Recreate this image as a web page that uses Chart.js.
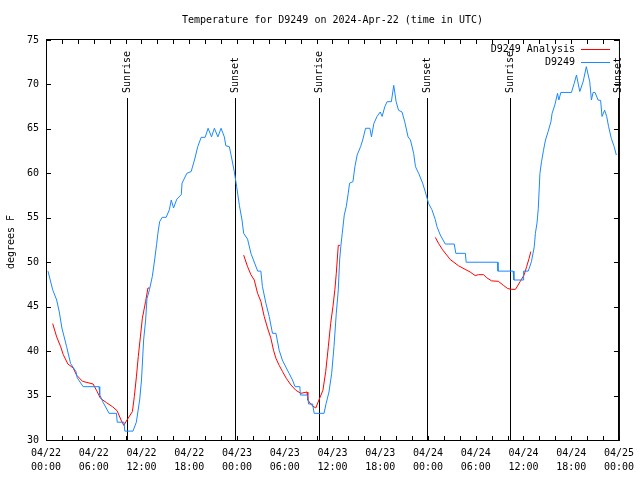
<!DOCTYPE html>
<html>
<head>
<meta charset="utf-8">
<script src="https://cdn.jsdelivr.net/npm/chart.js@4/dist/chart.umd.min.js"></script>
<style>
html,body{margin:0;padding:0;background:#fff;}
canvas{display:block;}
</style>
</head>
<body>
<canvas id="c" width="640" height="480"></canvas>
<script>
// ---- data (hours since 2024-04-22 00:00 UTC) ----
const obsHours = [0.25,0.84,1.34,1.67,2.0,2.59,3.09,3.76,3.92,4.67,6.67,6.75,7.2,7.93,8.85,8.95,9.8,9.9,10.93,11.35,11.77,12.0,12.27,12.52,12.69,13.0,13.36,13.65,13.9,14.06,14.28,14.6,15.1,15.5,15.74,16.03,16.44,17.0,17.1,17.7,18.24,18.66,19.07,19.5,20.0,20.37,20.8,21.16,21.6,22.0,22.41,22.6,23.04,23.25,23.66,23.96,24.3,24.63,24.84,25.33,25.75,26.6,27.0,27.2,27.63,28.05,28.46,28.9,29.3,29.7,30.2,30.55,30.97,31.3,31.9,31.97,32.85,33.0,33.5,33.7,34.94,35.2,35.56,35.9,36.19,36.48,36.73,36.9,37.05,37.23,37.48,37.73,37.98,38.15,38.57,38.82,39.1,39.53,39.8,40.16,40.7,40.9,41.2,41.6,42.0,42.24,42.58,42.86,43.4,43.7,44.0,44.3,44.74,45.08,45.5,45.8,46.2,46.43,46.83,47.33,47.67,48.08,48.5,48.92,49.13,49.55,50.17,51.3,51.5,52.7,52.8,56.76,56.8,58.7,58.8,60.0,60.02,60.6,61.0,61.36,61.5,61.7,61.86,62.07,62.27,62.52,62.77,63.1,63.45,63.6,63.95,64.28,64.45,64.7,66.03,66.37,66.66,67.08,67.5,67.9,68.33,68.54,68.75,69.0,69.37,69.7,69.87,70.2,70.46,70.7,71.05,71.4,71.67];
const obsTemps = [49.0,46.9,45.75,44.4,42.6,40.5,38.6,37.7,37.0,36.0,36.0,35.1,34.2,33.0,33.0,32.0,32.0,31.0,31.0,32.0,34.5,36.75,41.25,43.5,45.9,46.9,48.4,50.25,52.0,53.25,54.56,55.05,55.05,55.9,57.0,56.1,57.1,57.6,58.9,60.0,60.2,61.5,63.0,64.05,64.05,65.07,64.1,65.07,64.1,65.07,64.1,63.1,63.0,62.1,60.2,58.5,56.4,54.75,53.25,52.6,51.0,49.0,49.0,47.25,45.4,43.9,42.0,42.0,40.1,39.0,38.1,37.5,36.75,36.0,36.0,35.06,35.06,34.05,34.05,33.0,33.0,34.1,35.4,37.5,40.5,44.25,46.9,50.25,51.8,53.25,55.3,56.25,57.75,58.9,59.06,60.75,62.06,63.0,63.75,65.07,65.07,64.1,65.6,66.4,66.9,66.4,67.5,68.06,68.06,69.9,68.06,67.1,66.9,65.8,64.1,63.75,62.25,60.75,60.0,58.9,57.9,56.6,55.9,54.8,54.0,53.06,52.05,52.05,51.0,51.0,50.0,50.0,49.0,49.0,48.0,48.0,49.0,49.0,50.06,51.75,53.25,54.4,56.0,60.0,61.3,62.6,63.75,64.7,65.8,66.75,67.7,69.0,68.25,69.1,69.1,70.1,71.06,69.2,70.3,72.0,70.3,68.25,69.1,69.1,68.25,68.2,66.4,67.1,66.4,65.25,63.9,63.0,62.06];

const anaHours = [0.84,1.34,1.84,2.17,2.75,3.42,3.84,4.59,5.92,6.34,6.84,7.6,8.35,8.93,9.43,9.77,10.18,10.86,11.1,11.36,11.6,11.86,12.11,12.52,12.81,13.0,
  18.0,
  24.84,25.33,25.75,26.17,26.59,27.0,27.42,27.84,28.26,28.59,28.89,29.3,29.72,30.22,30.77,31.39,32.02,32.8,32.9,33.4,33.9,34.3,34.8,35.15,35.48,35.77,36.06,36.3,36.48,36.73,36.94,
  42.0,
  48.92,49.34,49.84,50.8,51.84,52.67,53.3,53.93,54.35,54.97,55.39,56.0,56.85,57.48,58.0,58.45,59.0,59.57,60.1,60.4,60.7,60.93];
const anaTemps = [43.1,41.6,40.5,39.6,38.55,38.1,37.3,36.6,36.3,35.6,34.7,34.2,33.75,33.3,32.25,31.65,32.25,33.2,34.9,37.1,39.4,41.6,43.7,45.6,47.1,47.1,
  null,
  50.8,49.5,48.6,48.0,46.5,45.6,43.9,42.6,41.45,40.1,39.2,38.4,37.7,36.9,36.2,35.6,35.25,35.4,34.5,33.9,33.6,34.5,35.6,37.7,40.5,43.1,45.0,46.9,48.75,51.9,51.9,
  null,
  52.8,52.1,51.4,50.3,49.6,49.2,48.9,48.5,48.6,48.6,48.25,47.9,47.85,47.4,47.05,46.95,46.95,47.8,48.6,49.5,50.4,51.2];

const sunHours = [10.2, 23.78, 34.3, 47.85, 58.25, 71.9];
const sunLabels = ['Sunrise','Sunset','Sunrise','Sunset','Sunrise','Sunset'];
const tickDates = ['04/22','04/23','04/24','04/25'];
const seriesNames = ['D9249 Analysis','D9249'];
const titleText = 'Temperature for D9249 on 2024-Apr-22 (time in UTC)';
const yTitle = 'degrees F';

const FONT = '10px "DejaVu Sans Mono", "Liberation Mono", monospace';
const RED = '#ff0000';
const BLUE = '#1a88ff';

function pts(h, t){ return h.map((v,i)=>({x:v, y:t[i]})); }

const deco = {
  id:'deco',
  beforeDatasetsDraw(chart){
    const ctx = chart.ctx, xs = chart.scales.x, a = chart.chartArea;
    ctx.save();
    ctx.strokeStyle = '#000'; ctx.lineWidth = 1;
    ctx.fillStyle = '#000'; ctx.font = FONT;
    sunHours.forEach((h,i)=>{
      const x = Math.round(xs.getPixelForValue(h)) + 0.5;
      ctx.beginPath(); ctx.moveTo(x, 98); ctx.lineTo(x, a.bottom); ctx.stroke();
      ctx.save();
      ctx.translate(x, 93); ctx.rotate(-Math.PI/2);
      ctx.textAlign = 'left'; ctx.textBaseline = 'middle';
      ctx.fillText(sunLabels[i], 0, 0);
      ctx.restore();
    });
    ctx.restore();
  },
  afterDraw(chart){
    const ctx = chart.ctx, xs = chart.scales.x, ys = chart.scales.y, a = chart.chartArea;
    ctx.save();
    ctx.strokeStyle = '#000'; ctx.lineWidth = 1;
    // frame
    ctx.strokeRect(a.left + 0.5, a.top - 0.5, a.right - a.left, a.bottom - a.top + 1);
    // x ticks (every 2 h), inward on top and bottom
    ctx.beginPath();
    for (let h = 0; h <= 72; h += 2) {
      const x = Math.round(xs.getPixelForValue(h)) + 0.5;
      ctx.moveTo(x, a.bottom); ctx.lineTo(x, a.bottom - 4);
      ctx.moveTo(x, a.top); ctx.lineTo(x, a.top + 4);
    }
    for (let v = 30; v <= 75; v += 5) {
      const y = Math.round(ys.getPixelForValue(v)) + 0.5;
      ctx.moveTo(a.left, y); ctx.lineTo(a.left + 5, y);
      ctx.moveTo(a.right, y); ctx.lineTo(a.right - 5, y);
    }
    ctx.stroke();
    // title
    ctx.fillStyle = '#000'; ctx.font = FONT;
    ctx.textAlign = 'center'; ctx.textBaseline = 'middle';
    ctx.fillText(titleText, (a.left + a.right) / 2, 20);
    // y title
    ctx.save();
    ctx.translate(11, 242); ctx.rotate(-Math.PI/2);
    ctx.fillText(yTitle, 0, 0);
    ctx.restore();
    // legend
    ctx.textAlign = 'right';
    const cols = [RED, BLUE];
    [49, 62].forEach((y,i)=>{
      ctx.fillStyle = '#000';
      ctx.fillText(seriesNames[i], 575, y);
      ctx.strokeStyle = cols[i];
      ctx.beginPath(); ctx.moveTo(581, y + 0.5); ctx.lineTo(610, y + 0.5); ctx.stroke();
    });
    ctx.restore();
  }
};

new Chart(document.getElementById('c'), {
  type: 'line',
  data: {
    datasets: [
      { label: seriesNames[1], data: pts(obsHours, obsTemps), borderColor: BLUE, borderWidth: 1, pointRadius: 0, tension: 0, fill: false, order: 0 },
      { label: seriesNames[0], data: pts(anaHours, anaTemps), borderColor: RED, borderWidth: 1, pointRadius: 0, tension: 0, fill: false, spanGaps: false, order: 1 }
    ]
  },
  options: {
    responsive: false,
    animation: false,
    devicePixelRatio: 1,
    layout: { padding: { top: 40, right: 20, left: 0, bottom: 0 } },
    plugins: { legend: { display: false }, title: { display: false }, tooltip: { enabled: false } },
    scales: {
      x: {
        type: 'linear', min: 0, max: 72,
        grid: { display: false, drawTicks: false },
        border: { display: false },
        afterFit(s){ s.height = 40; },
        ticks: {
          stepSize: 6, maxRotation: 0, autoSkip: false, padding: 6, color: '#000',
          font: { family: '"DejaVu Sans Mono", monospace', size: 10, lineHeight: 1.4 },
          callback(v){
            const d = Math.floor(v / 24), hh = v % 24;
            return [tickDates[d], String(hh).padStart(2,'0') + ':00'];
          }
        }
      },
      y: {
        min: 30, max: 75,
        grid: { display: false, drawTicks: false },
        border: { display: false },
        afterFit(s){ s.width = 46; },
        ticks: { stepSize: 5, padding: 7, color: '#000',
          font: { family: '"DejaVu Sans Mono", monospace', size: 10 } }
      }
    }
  },
  plugins: [deco]
});
</script>
</body>
</html>
